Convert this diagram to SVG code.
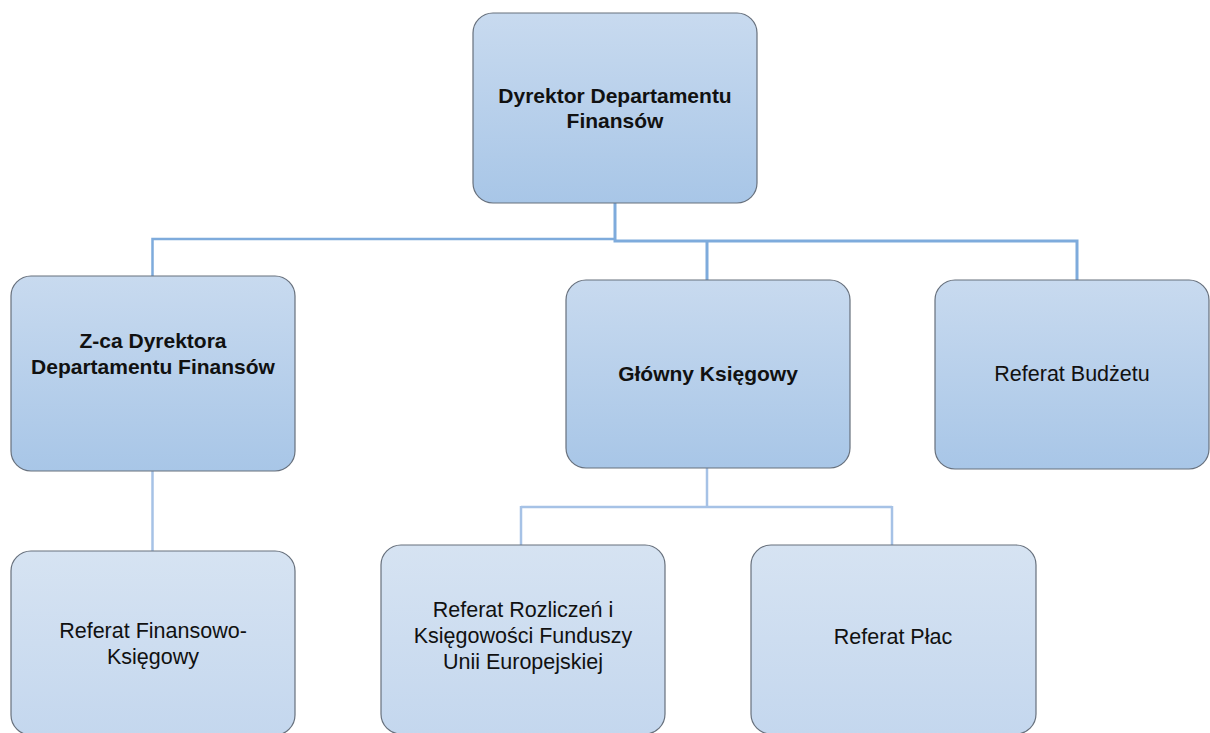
<svg xmlns="http://www.w3.org/2000/svg" width="1210" height="733" viewBox="0 0 1210 733">
  <defs>
    <linearGradient id="g1" x1="0" y1="0" x2="0" y2="1">
      <stop offset="0" stop-color="#C8DAEF"/>
      <stop offset="1" stop-color="#A8C6E7"/>
    </linearGradient>
    <linearGradient id="g2" x1="0" y1="0" x2="0" y2="1">
      <stop offset="0" stop-color="#D6E3F2"/>
      <stop offset="1" stop-color="#C4D7EE"/>
    </linearGradient>
    <style>
      .b1 { fill: url(#g1); stroke: #67707C; stroke-width: 1.2; }
      .b2 { fill: url(#g2); stroke: #67707C; stroke-width: 1.2; }
      .t { font-family: "Liberation Sans", Arial, sans-serif; font-size: 21.5px; fill: #111; text-anchor: middle; }
      .bold { font-weight: bold; font-size: 21px; }
      .c1 { fill: none; stroke: #7EABDC; stroke-width: 3; }
      .c1t { fill: none; stroke: #7EABDC; stroke-width: 2.5; }
      .c2 { fill: none; stroke: #A6C2E6; stroke-width: 2.5; }
    </style>
  </defs>

  <g id="connectors">
    <path class="c1t" d="M615,239 H152.5 V276"/>
    <path class="c1" d="M615,203 V241 M613.5,241 H1077 V280 M707,241 V280"/>
    <path class="c2" d="M152.5,471 V551"/>
    <path class="c2" d="M707,468 V507 M521,507 H892 M521,506 V545 M892,506 V545"/>
  </g>

  <g id="dyrektor">
    <rect class="b1" x="473" y="13" width="284" height="190" rx="20"/>
    <text class="t bold" x="615" y="103">Dyrektor Departamentu</text>
    <text class="t bold" x="615" y="128">Finansów</text>
  </g>

  <g id="zca">
    <rect class="b1" x="11" y="276" width="284" height="195" rx="20"/>
    <text class="t bold" x="153" y="348">Z-ca Dyrektora</text>
    <text class="t bold" x="153" y="374">Departamentu Finansów</text>
  </g>

  <g id="glowny">
    <rect class="b1" x="566" y="280" width="284" height="188" rx="20"/>
    <text class="t bold" x="708" y="381">Główny Księgowy</text>
  </g>

  <g id="budzet">
    <rect class="b1" x="935" y="280" width="274" height="189" rx="20"/>
    <text class="t" x="1072" y="381">Referat Budżetu</text>
  </g>

  <g id="finansowo">
    <rect class="b2" x="11" y="551" width="284" height="184" rx="20"/>
    <text class="t" x="153" y="638">Referat Finansowo-</text>
    <text class="t" x="153" y="664">Księgowy</text>
  </g>

  <g id="rozliczen">
    <rect class="b2" x="381" y="545" width="284" height="189" rx="20"/>
    <text class="t" x="523" y="617">Referat Rozliczeń i</text>
    <text class="t" x="523" y="643">Księgowości Funduszy</text>
    <text class="t" x="523" y="669">Unii Europejskiej</text>
  </g>

  <g id="plac">
    <rect class="b2" x="751" y="545" width="285" height="189" rx="20"/>
    <text class="t" x="893" y="644">Referat Płac</text>
  </g>
</svg>
